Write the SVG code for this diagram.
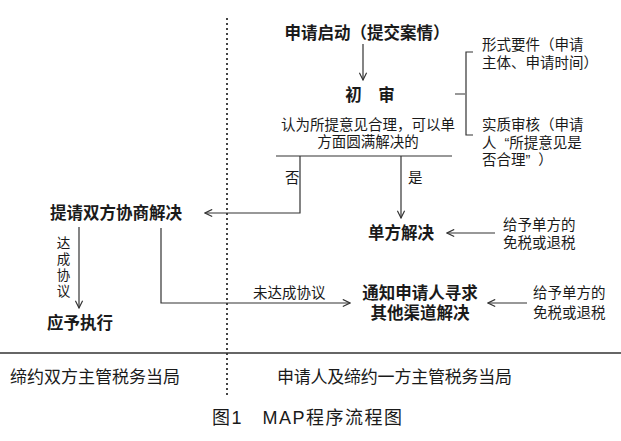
<svg xmlns="http://www.w3.org/2000/svg" width="621" height="441" viewBox="0 0 621 441">
<style>
text{font-family:"Liberation Sans","Noto Sans CJK SC",sans-serif;fill:#1a1a1a}
.b{font-size:16.5px;font-weight:700;text-anchor:middle}
.n{font-size:14.5px}
.m{font-size:14.5px;text-anchor:middle}
.f{font-size:17px}
.ln{stroke:#333;stroke-width:1.2;fill:none}
.ar{stroke:#333;stroke-width:1.2;fill:none;marker-end:url(#ah)}
</style>
<defs>
<marker id="ah" viewBox="0 0 10 10" refX="9" refY="5" markerWidth="9" markerHeight="9" markerUnits="userSpaceOnUse" orient="auto">
<polyline points="1,1 9,5 1,9" fill="none" stroke="#333" stroke-width="1.3"/>
</marker>
</defs>
<rect width="621" height="441" fill="#fff"/>
<g id="lanes">
<line x1="227" y1="18" x2="227" y2="398" stroke="#444" stroke-width="2" stroke-dasharray="2 3"/>
<line x1="0" y1="353" x2="621" y2="353" stroke="#333" stroke-width="1.5"/>
<text class="f" x="10" y="383" textLength="170">缔约双方主管税务当局</text>
<text class="f" x="277" y="383" textLength="235">申请人及缔约一方主管税务当局</text>
<text x="212" y="424" textLength="190" style="font-size:18px">图1　MAP程序流程图</text>
</g>
<g id="start"><text class="b" x="367" y="39">申请启动（提交案情）</text></g>
<g id="review"><text class="b" x="370" y="101">初　审</text></g>
<g id="brace">
<path class="ln" d="M455,94 H465 M473,52 H466 V135 H473"/>
</g>
<g id="formal"><text class="n" x="482" y="50">形式要件（申请<tspan x="482" y="68">主体、申请时间）</tspan></text></g>
<g id="substance"><text class="n" x="482" y="130">实质审核（申请<tspan x="482" y="148">人<tspan dx="8">“</tspan>所提意见是</tspan><tspan x="482" y="165">否合理”<tspan dx="8">）</tspan></tspan></text></g>
<g id="cond"><text class="m" x="368" y="130">认为所提意见合理，可以单<tspan x="368" y="147">方面圆满解决的</tspan></text></g>
<g id="unilateral"><text class="b" x="401" y="239">单方解决</text></g>
<g id="consult"><text class="b" x="116" y="219">提请双方协商解决</text></g>
<g id="execute"><text class="b" x="80" y="329">应予执行</text></g>
<g id="notify"><text class="b" x="420" y="299">通知申请人寻求<tspan x="420" y="319">其他渠道解决</tspan></text></g>
<g id="grant1"><text class="n" x="503" y="230">给予单方的<tspan x="503" y="248">免税或退税</tspan></text></g>
<g id="grant2"><text class="n" x="533" y="298">给予单方的<tspan x="533" y="318">免税或退税</tspan></text></g>
<g id="connectors">
<line class="ar" x1="363" y1="44" x2="363" y2="80"/>
<line class="ln" x1="276" y1="156" x2="452" y2="156"/>
<polyline class="ar" points="300,156 300,213 205,213"/>
<line class="ar" x1="401" y1="156" x2="401" y2="218"/>
<line class="ar" x1="495" y1="233" x2="447" y2="233"/>
<line class="ar" x1="79" y1="227" x2="79" y2="308"/>
<polyline class="ar" points="161,228 161,303 350,303"/>
<line class="ar" x1="527" y1="303" x2="488" y2="303"/>
<text class="n" x="285" y="183">否</text>
<text class="n" x="408" y="183">是</text>
<text class="n" x="253" y="298">未达成协议</text>
<text x="62" y="236" writing-mode="vertical-rl" style="font-size:13.5px;letter-spacing:2.5px">达成协议</text>
</g>
</svg>
